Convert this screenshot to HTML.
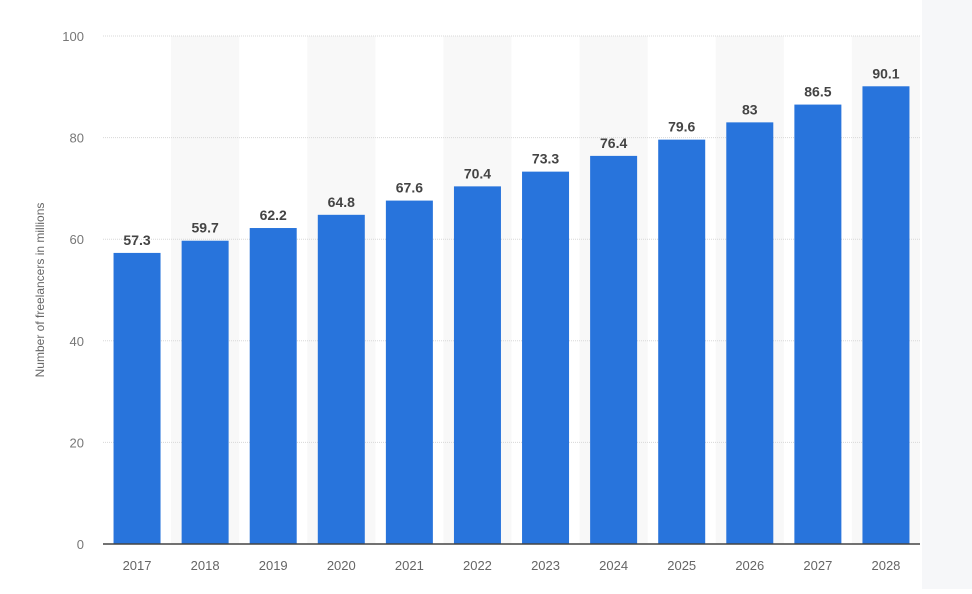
<!DOCTYPE html>
<html><head><meta charset="utf-8"><style>
body{margin:0;background:#fff;width:972px;height:589px;overflow:hidden;font-family:"Liberation Sans",sans-serif}
</style></head><body>
<svg id="chart" width="972" height="589" xmlns="http://www.w3.org/2000/svg">
<rect x="922" y="0" width="50" height="589" fill="#f6f7f9"/>
<text transform="translate(44,290) rotate(-90)" text-anchor="middle" font-size="12" fill="#666">Number of freelancers in millions</text>
</svg>
<script>
const categories=["2017","2018","2019","2020","2021","2022","2023","2024","2025","2026","2027","2028"];
const values=[57.3,59.7,62.2,64.8,67.6,70.4,73.3,76.4,79.6,83,86.5,90.1];
const valueLabels=["57.3","59.7","62.2","64.8","67.6","70.4","73.3","76.4","79.6","83","86.5","90.1"];
const yTicks=[0,20,40,60,80,100];
const svg=document.getElementById('chart');
const NS='http://www.w3.org/2000/svg';
const L=103,R=920,T=36,B=544,yMax=100;
const bw=(R-L)/categories.length;
const y=v=>B-(v/yMax)*(B-T);
const x=i=>L+bw*i;
function mk(tag,attrs,txt){const e=document.createElementNS(NS,tag);for(const k in attrs)e.setAttribute(k,attrs[k]);if(txt!==undefined)e.textContent=txt;svg.appendChild(e);return e;}
categories.forEach((c,i)=>{if(i%2===1){const b=mk('rect',{x:x(i),y:T,width:bw,height:B-T,fill:'#f8f8f8'});

}});
yTicks.forEach(t=>{if(t>0){const g=mk('line',{x1:L,x2:R,y1:y(t),y2:y(t),stroke:'#d8d8d8','stroke-dasharray':'1 1'});

}
const tl=mk('text',{x:84,y:y(t)+5,'text-anchor':'end','font-size':'13',fill:'#777'},String(t));

});
categories.forEach((c,i)=>{const cx=x(i)+bw/2,w=47;
const r=mk('rect',{x:cx-w/2,y:y(values[i]),width:w,height:B-y(values[i]),fill:'#2874dc'});


const vl=mk('text',{x:cx,y:y(values[i])-8,'text-anchor':'middle','font-size':'14','font-weight':'bold',fill:'#444'},valueLabels[i]);


const xl=mk('text',{x:cx,y:570,'text-anchor':'middle','font-size':'13',fill:'#666'},c);

});
const ax=mk('line',{x1:L,x2:R,y1:B,y2:B,stroke:'#444','stroke-width':'1.5'});


</script>
</body></html>
